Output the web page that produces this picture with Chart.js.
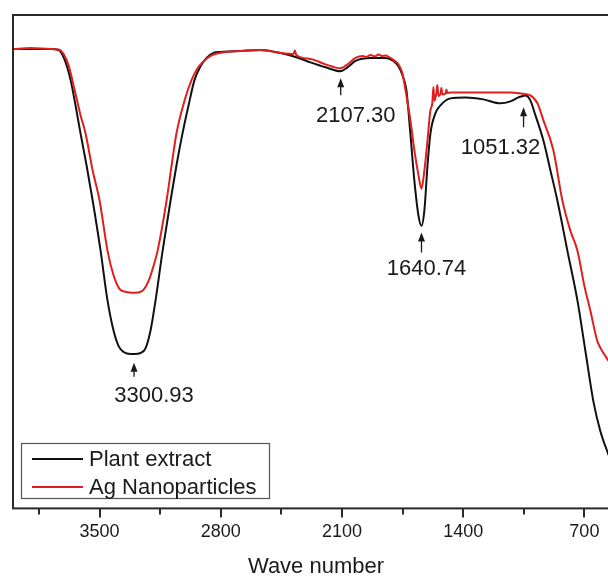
<!DOCTYPE html>
<html>
<head>
<meta charset="utf-8">
<script src="https://cdn.jsdelivr.net/npm/chart.js@4.4.1/dist/chart.umd.min.js"></script>
<style>
  html, body { margin: 0; padding: 0; overflow: hidden; background: #fff; }
  #wrap { position: absolute; left: 0; top: 0; width: 622px; height: 582px; }
</style>
</head>
<body>
<div id="wrap"><canvas id="c" width="622" height="582"></canvas></div>
<script>
// ---- data (wavenumber in cm^-1, transmittance in arbitrary %) ----
const seriesNames = ['Plant extract', 'Ag Nanoparticles'];

const plantWn = [4000,3898,3783,3737,3714,3690,3667,3639,3610,3575,3540,3494,3454,3419,3390,3361,3321,3298,3263,3234,3206,3177,3136,3090,3056,3021,2986,2952,2917,2882,2842,2801,2686,2571,2455,2368,2282,2195,2109,2068,2022,1936,1849,1803,1774,1751,1728,1705,1682,1658,1641,1624,1606,1589,1560,1531,1474,1387,1283,1185,1127,1081,1041,1012,983,937,896,856,798,740,694,648,608,560];
const plantT  = [93.1,93.1,93.1,92.9,91.9,89.8,86.8,81.7,76.0,69.5,62.4,52.2,42.1,36.0,32.9,31.7,31.3,31.3,31.5,32.5,36.0,42.1,52.2,62.4,69.5,76.0,81.7,86.8,89.6,91.3,92.3,92.5,92.7,92.9,92.3,91.5,90.4,89.4,88.6,89.4,90.7,91.3,91.3,90.7,89.6,87.8,84.8,76.0,66.5,59.3,57.3,60.4,69.5,76.0,80.1,81.7,83.1,83.3,82.9,82.1,82.5,83.3,83.7,82.7,79.7,74.6,68.5,62.4,52.2,42.1,31.9,21.7,15.7,10.8];

const agWn = [4000,3898,3783,3737,3708,3679,3644,3610,3581,3540,3500,3454,3419,3385,3350,3292,3252,3217,3188,3165,3113,3084,3056,3009,2969,2934,2905,2859,2773,2686,2571,2455,2380,2372,2364,2282,2195,2109,2068,2022,1980,1960,1936,1910,1890,1870,1849,1825,1803,1774,1751,1728,1705,1682,1658,1641,1624,1606,1589,1578,1572,1566,1555,1549,1543,1531,1526,1520,1502,1497,1491,1474,1358,1243,1127,1069,1012,971,937,879,827,781,740,700,665,625,590,560];
const agT  = [93.1,93.3,93.1,93.0,92.1,89.8,84.8,79.7,76.0,68.5,62.4,52.2,47.2,44.5,43.9,43.7,44.1,46.1,49.2,52.2,62.4,69.5,76.0,82.7,86.8,89.2,90.4,91.7,92.5,92.7,92.9,92.3,92.1,92.8,91.9,91.1,90.0,89.2,90.0,91.3,91.7,91.5,91.9,91.6,92.0,91.7,91.8,91.4,90.9,90.0,88.2,83.7,78.7,72.6,67.5,64.8,68.5,74.6,80.7,82.2,85.4,82.6,84.1,85.8,83.6,84.0,85.2,83.9,84.1,84.9,84.2,84.3,84.3,84.3,84.3,84.1,83.7,82.1,78.7,72.6,62.4,56.3,52.2,45.1,40.0,33.9,31.5,29.9];

const majorTicks = [3500, 2800, 2100, 1400, 700];
const minorTicks = [3850, 3150, 2450, 1750, 1050];

const peakLabels = ['3300.93', '2107.30', '1640.74', '1051.32'];
const peakWn     = [3300.93, 2107.30, 1640.74, 1051.32];
const peakTipT   = [29.5, 87.2, 55.9, 81.3];

// ---- style ----
const FONT = '"Liberation Sans", Arial, Helvetica, sans-serif';
const AXIS_COLOR = '#2a2a2a';
const TEXT_COLOR = '#1a1a1a';
const LINE_COLORS = ['#111111', '#e01e1e'];
// per-annotation layout: [text dx, arrow length, text center dy from tip]
const peakLayout = [[20, 14, 33], [15, 17, 38], [5, 20, 36], [-23, 20, 41]];

const toXY = (xs, ys) => xs.map((x, i) => ({ x: x, y: ys[i] }));

const decor = {
  id: 'decor',
  afterDatasetsDraw(chart) {
    const { ctx, chartArea: a, scales: { x, y } } = chart;
    ctx.save();
    // frame
    ctx.strokeStyle = AXIS_COLOR;
    ctx.lineWidth = 2;
    ctx.strokeRect(a.left, a.top, a.right - a.left, a.bottom - a.top);
    // ticks (outside, downwards)
    ctx.lineWidth = 2;
    ctx.beginPath();
    majorTicks.forEach(v => { const px = Math.round(x.getPixelForValue(v)); ctx.moveTo(px, a.bottom); ctx.lineTo(px, a.bottom + 9); });
    minorTicks.forEach(v => { const px = Math.round(x.getPixelForValue(v)); ctx.moveTo(px, a.bottom); ctx.lineTo(px, a.bottom + 6); });
    ctx.stroke();

    // peak annotations
    ctx.fillStyle = TEXT_COLOR;
    ctx.strokeStyle = TEXT_COLOR;
    ctx.font = '22px ' + FONT;
    ctx.textAlign = 'center';
    ctx.textBaseline = 'middle';
    peakLabels.forEach((lab, i) => {
      const px = x.getPixelForValue(peakWn[i]);
      const tip = y.getPixelForValue(peakTipT[i]);
      const [dx, len, dy] = peakLayout[i];
      ctx.lineWidth = 1.3;
      ctx.beginPath();
      ctx.moveTo(px, tip + 6);
      ctx.lineTo(px, tip + len);
      ctx.stroke();
      ctx.beginPath();
      ctx.moveTo(px, tip);
      ctx.lineTo(px - 3.5, tip + 9);
      ctx.lineTo(px + 3.5, tip + 9);
      ctx.closePath();
      ctx.fill();
      ctx.fillText(lab, px + dx, tip + dy);
    });

    // legend
    const lx = 21.5, ly = 443.5, lw = 248, lh = 55;
    ctx.fillStyle = '#ffffff';
    ctx.fillRect(lx, ly, lw, lh);
    ctx.strokeStyle = '#555';
    ctx.lineWidth = 1.2;
    ctx.strokeRect(lx, ly, lw, lh);
    ctx.textAlign = 'left';
    chart.data.datasets.forEach((ds, i) => {
      const rowY = 459 + i * 28;
      ctx.strokeStyle = ds.borderColor;
      ctx.lineWidth = 2;
      ctx.beginPath();
      ctx.moveTo(32, rowY);
      ctx.lineTo(83, rowY);
      ctx.stroke();
      ctx.fillStyle = TEXT_COLOR;
      ctx.fillText(ds.label, 89, rowY + 1);
    });
    ctx.restore();
  }
};

new Chart(document.getElementById('c'), {
  type: 'line',
  data: {
    datasets: [
      { label: seriesNames[0], data: toXY(plantWn, plantT), borderColor: LINE_COLORS[0], borderWidth: 2, pointRadius: 0, cubicInterpolationMode: 'monotone', order: 2 },
      { label: seriesNames[1], data: toXY(agWn, agT), borderColor: LINE_COLORS[1], borderWidth: 2, pointRadius: 0, cubicInterpolationMode: 'monotone', order: 1 }
    ]
  },
  options: {
    responsive: false,
    devicePixelRatio: 1,
    animation: false,
    layout: { padding: { left: 13, top: 15, right: 3, bottom: 4 } },
    plugins: { legend: { display: false }, tooltip: { enabled: false } },
    scales: {
      x: {
        type: 'linear',
        reverse: true,
        min: 500,
        max: 4000,
        afterBuildTicks: s => { s.ticks = [...minorTicks, ...majorTicks].sort((p, q) => q - p).map(v => ({ value: v })); },
        grid: { display: false, drawTicks: false },
        border: { display: false },
        ticks: {
          autoSkip: false, maxRotation: 0, padding: 13, color: TEXT_COLOR,
          font: { size: 18, family: FONT },
          callback: v => majorTicks.includes(v) ? String(v) : ''
        },
        title: { display: true, text: 'Wave number', color: TEXT_COLOR, font: { size: 22, family: FONT, lineHeight: 1.0 }, padding: { top: 0, bottom: 0 } }
      },
      y: { display: false, min: 0, max: 100 }
    }
  },
  plugins: [decor]
});
</script>
</body>
</html>
